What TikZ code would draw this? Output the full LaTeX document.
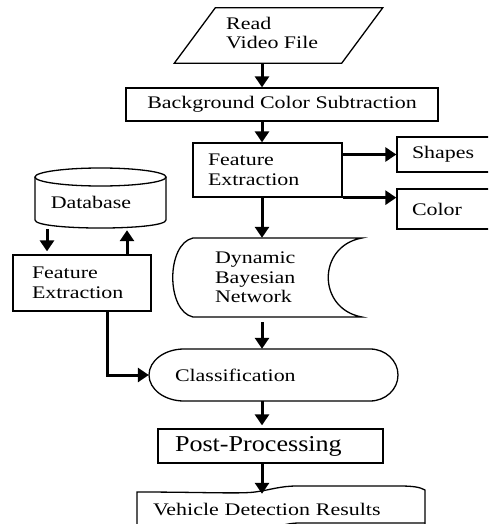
\documentclass[tikz,border=0pt]{standalone}
\usepackage{fontspec}
\setmainfont[FakeStretch=1.24]{Liberation Serif}
\newfontfamily\ppfont[FakeStretch=1.15]{Liberation Serif}
\usetikzlibrary{arrows.meta}
\begin{document}
\begin{tikzpicture}[x=1pt,y=-1pt,
  every node/.style={font=\fontsize{17.7}{19.5}\selectfont, inner sep=0pt},
  outline/.style={line width=1.3pt, line join=miter},
  box/.style={draw, outline, align=left},
  arr/.style={line width=3pt, -{Triangle[length=11pt,width=14pt]}}
]
\useasboundingbox (0,0) rectangle (488,524);
\clip (0,0) rectangle (488,524);
\fill[white] (0,0) rectangle (488,524);

\coordinate (spine) at (262,0);
\coordinate (dbl) at (47,0);
\coordinate (dbr) at (127,0);
\coordinate (fe2x) at (107,0);

% Read Video File
\node[minimum width=167pt, minimum height=55pt] (read) at (278.5,35.5) {};
\draw[outline] ([xshift=-20.5pt]read.south west) -- ([xshift=20.5pt]read.north west) -- ([xshift=20.5pt]read.north east) -- ([xshift=-20.5pt]read.south east) -- cycle;
\node[anchor=west, align=left] (readtxt) at (226,33) {Read\\Video File};

% Background Color Subtraction
\node[box, minimum width=312pt, minimum height=33pt, align=center] (bcs) at (282,104.5) {Background Color Subtraction};

% Feature Extraction (top)
\node[box, minimum width=149pt, minimum height=54pt, text width=119pt, inner xsep=15pt] (fe1) at (267.5,170) {Feature\\Extraction};

% Shapes, Color
\node[box, minimum width=110pt, minimum height=35pt, text width=80pt, inner xsep=15pt] (shapes) at (452,154.5) {Shapes};
\node[box, minimum width=110pt, minimum height=40pt, text width=80pt, inner xsep=15pt] (color) at (452,209) {Color};

% Database
\node[minimum width=131pt, minimum height=60pt] (db) at (100.5,198) {};
\draw[outline] (100.5,177) ellipse [x radius=65.5pt, y radius=9pt];
\draw[outline] (35,177) -- (35,220) .. controls (35,230.7) and (166,230.7) .. (166,220) -- (166,177);
\node (dbtxt) at (91,202) {Database};

% Feature Extraction (left)
\node[box, minimum width=138pt, minimum height=56pt, text width=100pt, inner xsep=19pt] (fe2) at (82,283) {Feature\\Extraction};

% Dynamic Bayesian Network
\node[minimum width=189pt, minimum height=79pt, text width=105pt, inner xsep=42pt, align=left] (dbn) at (267.5,277.5) {Dynamic\\Bayesian\\Network};
\draw[outline] (193,238) -- (362,238) .. controls (317,246) and (317,309) .. (362,317) -- (193,317) .. controls (166,311) and (166,244) .. (193,238) -- cycle;

% Classification
\node[minimum width=249pt, minimum height=52pt, text width=197pt, inner xsep=26pt, align=left] (cls) at (273.5,375) {Classification};
\draw[outline] (184,349) -- (370,349) .. controls (385.5,349) and (398,360.6) .. (398,375) .. controls (398,389.4) and (385.5,401) .. (370,401) -- (184,401) .. controls (164.7,401) and (149,389.4) .. (149,375) .. controls (149,360.6) and (164.7,349) .. (184,349) -- cycle;

% Post-Processing
\node[box, minimum width=225pt, minimum height=34pt, text width=191pt, inner xsep=17pt, font=\ppfont\fontsize{22.7}{26}\selectfont] (pp) at (270.5,446) {Post-Processing};

% Vehicle Detection Results
\node[minimum width=288pt, minimum height=36pt, text width=256pt, inner xsep=16pt, align=left] (vdr) at (281,509) {Vehicle Detection Results};
\draw[outline] (137,540) -- (137,492) .. controls (200,492) and (240,494) .. (255,492) .. controls (270,490) and (280,486) .. (297,486) -- (400,486) .. controls (412,486) and (420,487) .. (425,490) -- (425,540);
\draw[outline] (425,523) -- (300,523) .. controls (292,523) and (287,524) .. (280,526);

% Connectors
\draw[arr] (read.south -| spine) -- (bcs.north -| spine);
\draw[arr] (bcs.south -| spine) -- (fe1.north -| spine);
\draw[arr] (fe1.east |- shapes.west) -- (shapes.west);
\draw[arr] (fe1.south east) -- (fe1.south east -| color.west);
\draw[arr] (fe1.south -| spine) -- (dbn.north -| spine);
\draw[arr, shorten <=5pt] (dbn.south -| spine) -- (cls.north -| spine);
\draw[arr, shorten >=3pt] (cls.south -| spine) -- (pp.north -| spine);
\draw[arr, shorten >=-3pt] (pp.south -| spine) -- (vdr.north -| spine);
\draw[arr, shorten <=1pt, shorten >=3pt] (db.south -| dbl) -- (fe2.north -| dbl);
\draw[arr, shorten >=2pt] (fe2.north -| dbr) -- (db.south -| dbr);
\draw[arr] (fe2.south -| fe2x) |- (cls.west);
\end{tikzpicture}
\end{document}
